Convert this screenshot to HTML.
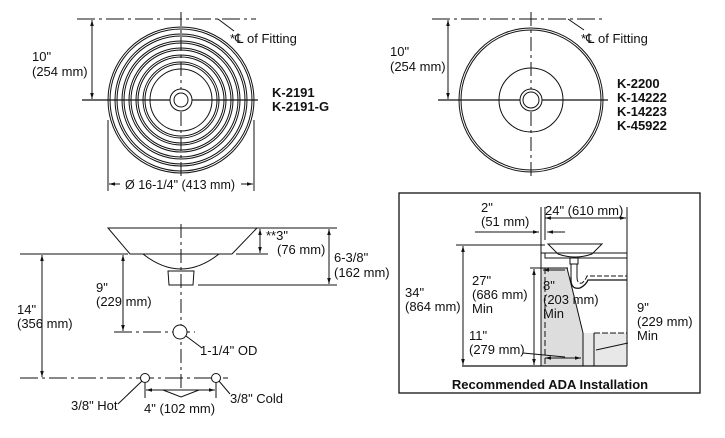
<!DOCTYPE html>
<html><head><meta charset="utf-8"><style>
html,body{margin:0;padding:0;background:#fff}
svg{display:block}
text{font-family:"Liberation Sans",Arial,sans-serif;font-size:13px;fill:#111}
.b{font-weight:bold}
</style></head><body>
<svg width="725" height="438" viewBox="0 0 725 438" xmlns="http://www.w3.org/2000/svg">
<defs>
<marker id="a" viewBox="0 0 10 10" refX="10" refY="5" markerWidth="6" markerHeight="6" orient="auto-start-reverse"><path d="M0,2 L10,5 L0,8 z" fill="#111"/></marker>
</defs>
<g stroke="#111" fill="none" stroke-width="1">
<!-- Top left -->
<line x1="77" y1="19" x2="256" y2="19" stroke-dasharray="18,4,3,4"/>
<line x1="218" y1="19" x2="234" y2="31"/>
<line x1="92" y1="20" x2="92" y2="99" marker-start="url(#a)" marker-end="url(#a)"/>
<line x1="82" y1="100" x2="258" y2="100" stroke-width="1.3"/>
<line x1="181" y1="12" x2="181" y2="178" stroke-dasharray="14,4,3,4"/>
<circle cx="181" cy="100" r="73"/><circle cx="181" cy="100" r="71"/>
<circle cx="181" cy="100" r="66"/><circle cx="181" cy="100" r="64"/>
<circle cx="181" cy="100" r="59"/><circle cx="181" cy="100" r="57"/>
<circle cx="181" cy="100" r="52"/><circle cx="181" cy="100" r="50"/>
<circle cx="181" cy="100" r="45"/><circle cx="181" cy="100" r="43"/>
<circle cx="181" cy="100" r="38"/><circle cx="181" cy="100" r="36"/>
<circle cx="181" cy="100" r="31"/>
<circle cx="181" cy="100" r="11" fill="#fff"/><circle cx="181" cy="100" r="7"/>
<line x1="108" y1="120" x2="108" y2="191"/><line x1="254" y1="120" x2="254" y2="191"/>
<line x1="109" y1="184" x2="120" y2="184" marker-start="url(#a)"/>
<line x1="241" y1="184" x2="253" y2="184" marker-end="url(#a)"/>
<!-- Top right -->
<line x1="432" y1="19" x2="603" y2="19" stroke-dasharray="18,4,3,4"/>
<line x1="568" y1="19" x2="584" y2="30"/>
<line x1="448" y1="20" x2="448" y2="99" marker-start="url(#a)" marker-end="url(#a)"/>
<line x1="438" y1="100" x2="608" y2="100" stroke-width="1.3"/>
<line x1="531" y1="12" x2="531" y2="176" stroke-dasharray="14,4,3,4"/>
<circle cx="531" cy="100" r="72"/><circle cx="531" cy="100" r="70"/>
<circle cx="531" cy="100" r="32"/>
<circle cx="531" cy="100" r="11" fill="#fff"/><circle cx="531" cy="100" r="8"/>
<!-- Bottom left -->
<path d="M108,228 L257,228 L232,254 L130,254 Z" fill="#fff"/>
<path d="M143,254 Q181,284 219,254"/>
<path d="M168,271 L194,271 L193,285 L169,285 Z"/>
<line x1="181" y1="224" x2="181" y2="392" stroke-dasharray="14,4,3,4"/>
<line x1="20" y1="254" x2="128" y2="254"/>
<line x1="42" y1="255" x2="42" y2="377" marker-start="url(#a)" marker-end="url(#a)"/>
<line x1="20" y1="378" x2="228" y2="378" stroke-dasharray="18,4,3,4"/>
<line x1="123" y1="255" x2="123" y2="331" marker-start="url(#a)" marker-end="url(#a)"/>
<line x1="114" y1="332" x2="195" y2="332" stroke-dasharray="18,4,3,4"/>
<circle cx="180" cy="332" r="7" fill="#fff"/>
<line x1="186" y1="336" x2="202" y2="348"/>
<circle cx="145" cy="378" r="4.5" fill="#fff"/><circle cx="216" cy="378" r="4.5" fill="#fff"/>
<line x1="145" y1="383" x2="145" y2="398"/><line x1="216" y1="383" x2="216" y2="398"/>
<line x1="146" y1="390" x2="215" y2="390" marker-start="url(#a)" marker-end="url(#a)"/>
<path d="M163,390 L181,397 L199,390"/>
<line x1="142" y1="381" x2="118" y2="404"/>
<line x1="219" y1="381" x2="230" y2="394"/>
<line x1="259" y1="228" x2="268" y2="228"/>
<line x1="236" y1="254" x2="268" y2="254"/>
<line x1="260" y1="229" x2="260" y2="253" marker-start="url(#a)" marker-end="url(#a)"/>
<line x1="257" y1="228" x2="337" y2="228"/>
<line x1="198" y1="285" x2="337" y2="285"/>
<line x1="329" y1="229" x2="329" y2="284" marker-start="url(#a)" marker-end="url(#a)"/>
<!-- ADA box -->
<rect x="399" y="193" width="301" height="200" stroke-width="1.3"/>
<path d="M541,268 L567,268 L575,300 L583,333 L583,366 L541,366 Z" fill="#ddd" stroke="none"/>
<path d="M583,333 L627,333 L627,366 L583,366 Z" fill="#e8e8e8" stroke="none"/>
<line x1="541" y1="207" x2="541" y2="366"/>
<line x1="627" y1="207" x2="627" y2="366"/>
<line x1="462" y1="366" x2="627" y2="366" stroke-width="1.3"/>
<line x1="456" y1="245" x2="545" y2="245"/>
<path d="M548,244 L602,244 L592,254 Q575,260 558,254 Z" fill="#fff"/>
<path d="M541,253 L627,253 M545,253 L545,258 L627,258"/>
<rect x="570" y="258" width="8" height="6" fill="#fff"/>
<path d="M571,264 L571,277 M577,264 L577,277" />
<path d="M571,277 Q570,290 580,288 Q586,285 588,280 L627,280" stroke-width="1.3"/>
<path d="M577,277 Q577,284 582,283 Q585,281 587,276 L627,276" stroke-dasharray="5,2"/>
<path d="M567,268 L575,300 L583,333"/>
<line x1="583" y1="333" x2="583" y2="366"/>
<line x1="594" y1="333" x2="594" y2="366"/>
<line x1="594" y1="333" x2="627" y2="333" stroke-dasharray="6,2"/>
<line x1="545" y1="268" x2="545" y2="366" stroke-dasharray="6,3"/>
<line x1="530" y1="268" x2="568" y2="268"/>
<line x1="543" y1="270" x2="565" y2="270" marker-start="url(#a)"/>
<line x1="534" y1="269" x2="534" y2="365" marker-start="url(#a)" marker-end="url(#a)"/>
<line x1="463" y1="246" x2="463" y2="365" marker-start="url(#a)" marker-end="url(#a)"/>
<line x1="545" y1="358" x2="581" y2="358" marker-start="url(#a)" marker-end="url(#a)"/>
<line x1="523" y1="353" x2="565" y2="357"/>
<line x1="596" y1="350" x2="628" y2="343"/>
<line x1="545" y1="218" x2="626" y2="218" marker-start="url(#a)" marker-end="url(#a)"/>
<line x1="545" y1="207" x2="545" y2="240"/>
<line x1="475" y1="232" x2="539" y2="232" marker-end="url(#a)"/>
<line x1="547" y1="232" x2="565" y2="232" marker-start="url(#a)"/>
</g>
<!-- Text -->
<text x="230" y="43">*℄ of Fitting</text>
<text x="32" y="61">10"</text><text x="32" y="76">(254 mm)</text>
<text x="272" y="97" class="b">K-2191</text><text x="272" y="111" class="b">K-2191-G</text>
<text x="125" y="189" style="font-size:12.5px" stroke="#fff" stroke-width="4" paint-order="stroke">Ø 16-1/4" (413 mm)</text>
<text x="581" y="43">*℄ of Fitting</text>
<text x="390" y="56">10"</text><text x="390" y="71">(254 mm)</text>
<text x="617" y="88" class="b">K-2200</text><text x="617" y="102" class="b">K-14222</text>
<text x="617" y="116" class="b">K-14223</text><text x="617" y="130" class="b">K-45922</text>
<text x="266" y="240">**3"</text><text x="277" y="254">(76 mm)</text>
<text x="334" y="262">6-3/8"</text><text x="334" y="277">(162 mm)</text>
<text x="96" y="292">9"</text><text x="96" y="306">(229 mm)</text>
<text x="17" y="314">14"</text><text x="17" y="328">(356 mm)</text>
<text x="200" y="355">1-1/4" OD</text>
<text x="71" y="410">3/8" Hot</text>
<text x="144" y="413">4" (102 mm)</text>
<text x="230" y="403">3/8" Cold</text>
<text x="481" y="212">2"</text><text x="481" y="226">(51 mm)</text>
<text x="545" y="215">24" (610 mm)</text>
<text x="405" y="297">34"</text><text x="405" y="311">(864 mm)</text>
<text x="472" y="285">27"</text><text x="472" y="299">(686 mm)</text><text x="472" y="313">Min</text>
<text x="543" y="290">8"</text><text x="543" y="304">(203 mm)</text><text x="543" y="318">Min</text>
<text x="637" y="312">9"</text><text x="637" y="326">(229 mm)</text><text x="637" y="340">Min</text>
<text x="469" y="340">11"</text><text x="469" y="354">(279 mm)</text>
<text x="550" y="389" class="b" text-anchor="middle">Recommended ADA Installation</text>
</svg>
</body></html>
